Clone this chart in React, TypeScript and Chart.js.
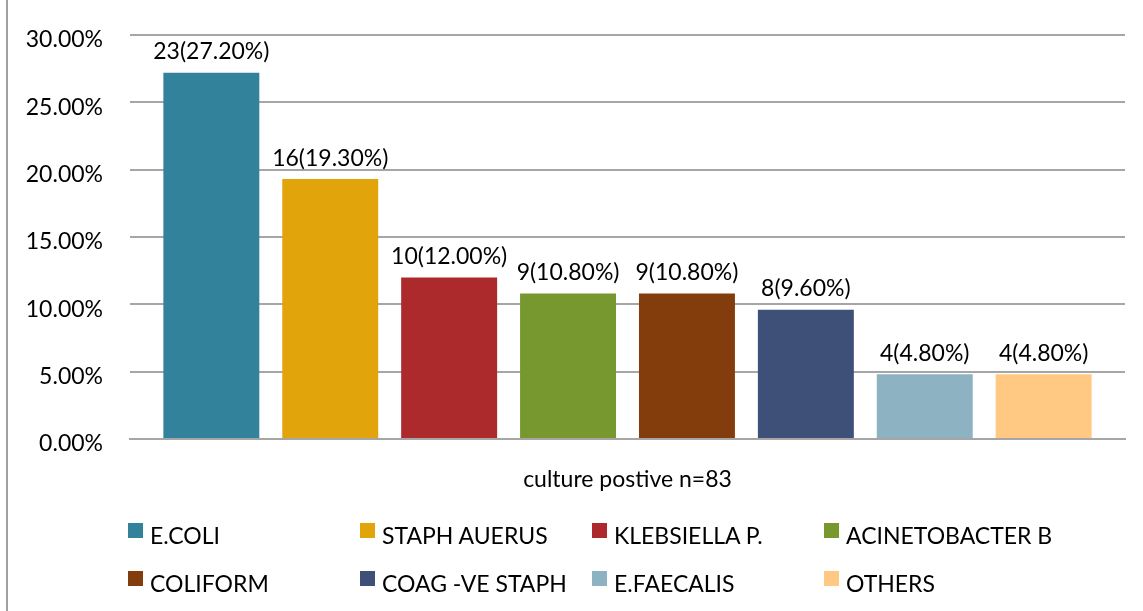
import React, { useEffect, useRef } from "react";
import { Chart, registerables } from "chart.js";

Chart.register(...registerables);

const categories = ["culture postive n=83"];
const organisms = [
  "E.COLI",
  "STAPH AUERUS",
  "KLEBSIELLA P.",
  "ACINETOBACTER B",
  "COLIFORM",
  "COAG -VE STAPH",
  "E.FAECALIS",
  "OTHERS",
];
const counts = [23, 16, 10, 9, 9, 8, 4, 4];
const percents = [27.2, 19.3, 12.0, 10.8, 10.8, 9.6, 4.8, 4.8];
const colors = [
  "#31829A",
  "#E1A40A",
  "#AC292C",
  "#77972F",
  "#833C0B",
  "#3E5078",
  "#8DB3C2",
  "#FFC983",
];
const yTicks = [0, 5, 10, 15, 20, 25, 30];

const FONT = "Lato, 'Open Sans', sans-serif";

const labelPlugin = {
  id: "barLabels",
  afterDatasetsDraw(chart: any) {
    const ctx = chart.ctx;
    ctx.save();
    ctx.font = `23px ${FONT}`;
    ctx.fillStyle = "#000";
    ctx.textAlign = "center";
    ctx.textBaseline = "middle";
    chart.data.datasets.forEach((ds: any, i: number) => {
      const meta = chart.getDatasetMeta(i);
      meta.data.forEach((bar: any) => {
        const txt = `${counts[i]}(${percents[i].toFixed(2)}%)`;
        ctx.fillText(txt, bar.x, bar.y - 21);
      });
    });
    ctx.restore();
  },
};

export default function App() {
  const ref = useRef<HTMLCanvasElement | null>(null);

  useEffect(() => {
    if (!ref.current) return;
    const chart = new Chart(ref.current, {
      type: "bar",
      data: {
        labels: categories,
        datasets: organisms.map((name, i) => ({
          label: name,
          data: [percents[i]],
          backgroundColor: colors[i],
          borderWidth: 0,
          categoryPercentage: 0.956,
          barPercentage: 0.807,
        })),
      },
      options: {
        animation: false,
        responsive: false,
        maintainAspectRatio: false,
        layout: { padding: { left: 0, top: 35, right: 18, bottom: 0 } },
        plugins: {
          legend: { display: false },
          tooltip: { enabled: false },
        },
        scales: {
          x: {
            grid: { display: false, drawTicks: false },
            border: { display: true, color: "#A6A6A6", width: 2 },
            ticks: {
              color: "#000",
              font: { family: FONT, size: 23 },
              padding: 27,
            },
            afterFit(scale: any) {
              scale.height = 611 - 439;
            },
          },
          y: {
            min: 0,
            max: 30,
            afterBuildTicks(scale: any) {
              scale.ticks = yTicks.map((v) => ({ value: v }));
            },
            grid: { color: "#A6A6A6", lineWidth: 2, drawTicks: false },
            border: { display: false },
            ticks: {
              color: "#000",
              font: { family: FONT, size: 23 },
              padding: 27,
              labelOffset: 5,
              callback: (v: any) => `${Number(v).toFixed(2)}%`,
            },
            afterFit(scale: any) {
              scale.width = 130;
              scale.paddingTop = 10;
              scale.paddingBottom = 10;
            },
          },
        },
      },
      plugins: [labelPlugin],
    });
    return () => chart.destroy();
  }, []);

  return (
    <div
      style={{
        position: "fixed",
        left: 0,
        top: 0,
        width: 1143,
        height: 611,
        background: "#fff",
        overflow: "hidden",
      }}
    >
      <div
        style={{
          position: "absolute",
          left: 6,
          top: 0,
          width: 2,
          height: 611,
          background: "#A0A0A0",
        }}
      />
      <canvas
        ref={ref}
        width={1143}
        height={611}
        style={{ position: "absolute", left: 0, top: 0, width: 1143, height: 611 }}
      />
      <div
        style={{
          position: "absolute",
          left: 128,
          top: 520,
          display: "grid",
          gridTemplateColumns: "232px 232px 232px 232px",
          gridAutoRows: "48px",
          fontFamily: FONT,
          fontSize: 23,
          color: "#000",
        }}
      >
        {organisms.map((name, i) => (
          <div
            key={name}
            style={{ display: "flex", alignItems: "center", height: 20, whiteSpace: "nowrap" }}
          >
            <span
              style={{
                display: "inline-block",
                width: 15,
                height: 15,
                background: colors[i],
                marginRight: 7,
                flex: "none",
              }}
            />
            <span style={{ lineHeight: "20px", position: "relative", top: 5 }}>{name}</span>
          </div>
        ))}
      </div>
    </div>
  );
}
